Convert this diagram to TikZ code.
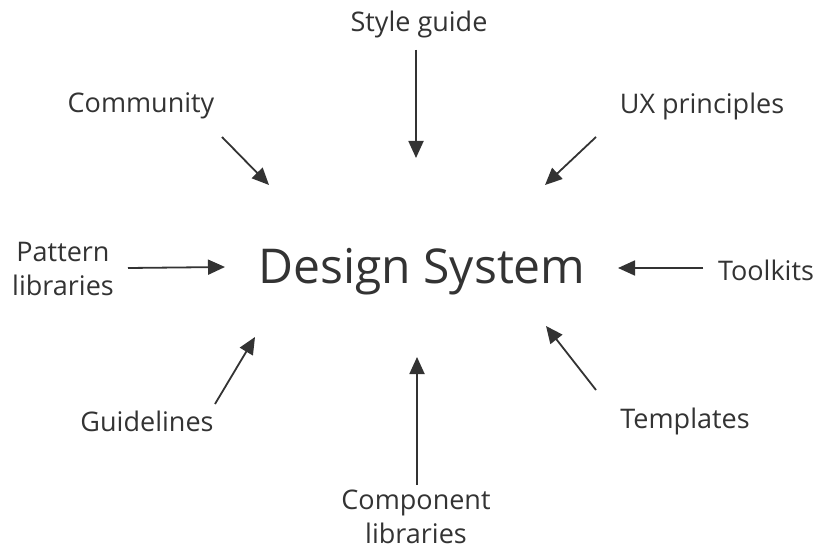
\documentclass[tikz,border=0pt]{standalone}
\usepackage{fontspec}
\setmainfont{Open Sans}
\usetikzlibrary{arrows.meta, positioning}
\definecolor{inkgray}{HTML}{333333}

\begin{document}
\begin{tikzpicture}[x=1pt, y=-1pt,
        label/.style={text=inkgray, font=\fontsize{27}{34}\selectfont, align=center, inner sep=0pt},
        feed/.style={-{Triangle[length=17pt, width=15pt]}, line width=1.8pt, draw=inkgray, fill=inkgray}]
        \useasboundingbox (0,0) rectangle (818,553);

        % Central node
        \node[text=inkgray, font=\fontsize{48}{56}\selectfont, inner sep=0pt] (DS) at (422,272) {Design System};

        % Source labels
        \node[label] (style) at (419,24) {Style guide};
        \node[label] (comm) at (141,106) {Community};
        \node[label] (ux) at (702,106) {UX principles};
        \node[label] (pat) at (63,269) {Pattern\\libraries};
        \node[label] (tool) at (766,270) {Toolkits};
        \node[label] (guide) at (147,421) {Guidelines};
        \node[label] (temp) at (685,421) {Templates};
        \node[label] (comp) at (416,517) {Component\\libraries};

        % Arrow end points
        \coordinate (style-s) at (416,50);   \coordinate (style-e) at (416,158);
        \coordinate (comm-s) at (222,137);   \coordinate (comm-e) at (269,185);
        \coordinate (ux-s) at (596,137);     \coordinate (ux-e) at (545,185);
        \coordinate (pat-s) at (128,268);    \coordinate (pat-e) at (225,267);
        \coordinate (tool-s) at (703,268);   \coordinate (tool-e) at (618,268);
        \coordinate (guide-s) at (215,404);  \coordinate (guide-e) at (255,337);
        \coordinate (temp-s) at (596,390);   \coordinate (temp-e) at (546,326);
        \coordinate (comp-s) at (417,485);   \coordinate (comp-e) at (417,357);

        % Arrows into the design system
        \foreach \src in {style, comm, ux, pat, tool, guide, temp, comp}
            \draw[feed] (\src-s) -- (\src-e);
    \end{tikzpicture}
\end{document}
